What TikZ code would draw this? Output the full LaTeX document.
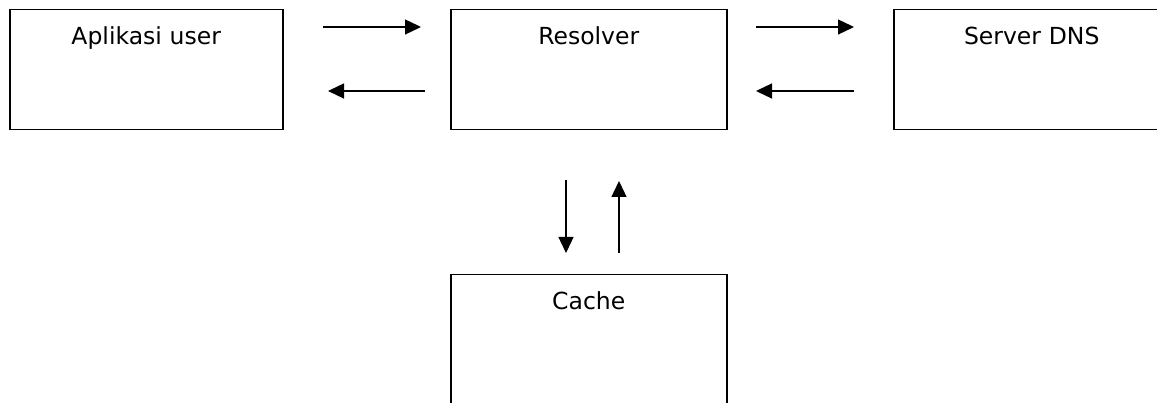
\documentclass[tikz,border=0pt]{standalone}
\usepackage{fontspec}
\setmainfont{DejaVu Sans}
\usetikzlibrary{arrows.meta}
\begin{document}
\begin{tikzpicture}[x=1pt,y=-1pt,
  box/.style={draw=black, line width=1.5pt, anchor=north west, inner sep=0pt,
    minimum width=#1, text width=#1, align=center, text height=35pt, text depth=85pt,
    font=\fontsize{23.5}{26}\selectfont},
  box/.default=273pt,
  arr/.style={line width=1.3pt, -{Triangle[length=16pt,width=15pt]}}]
\clip (0,0) rectangle (1157,403);
\node[box=273pt] (app) at (9,9) {Aplikasi user};
\node[box=276pt] (res) at (450,9) {Resolver};
\node[box=276pt] (dns) at (893,9) {Server DNS};
\node[box=276pt, text depth=105pt] (cache) at (450,274) {Cache};
\coordinate (a1s) at (323,27);  \coordinate (a1e) at (421,27);
\coordinate (a2s) at (425,91);  \coordinate (a2e) at (328,91);
\coordinate (a3s) at (756,27);  \coordinate (a3e) at (854,27);
\coordinate (a4s) at (854,91);  \coordinate (a4e) at (756,91);
\coordinate (a5s) at (566,180); \coordinate (a5e) at (566,253);
\coordinate (a6s) at (619,253); \coordinate (a6e) at (619,181);
\draw[arr] (a1s) -- (a1e);
\draw[arr] (a2s) -- (a2e);
\draw[arr] (a3s) -- (a3e);
\draw[arr] (a4s) -- (a4e);
\draw[arr] (a5s) -- (a5e);
\draw[arr] (a6s) -- (a6e);
\end{tikzpicture}
\end{document}
